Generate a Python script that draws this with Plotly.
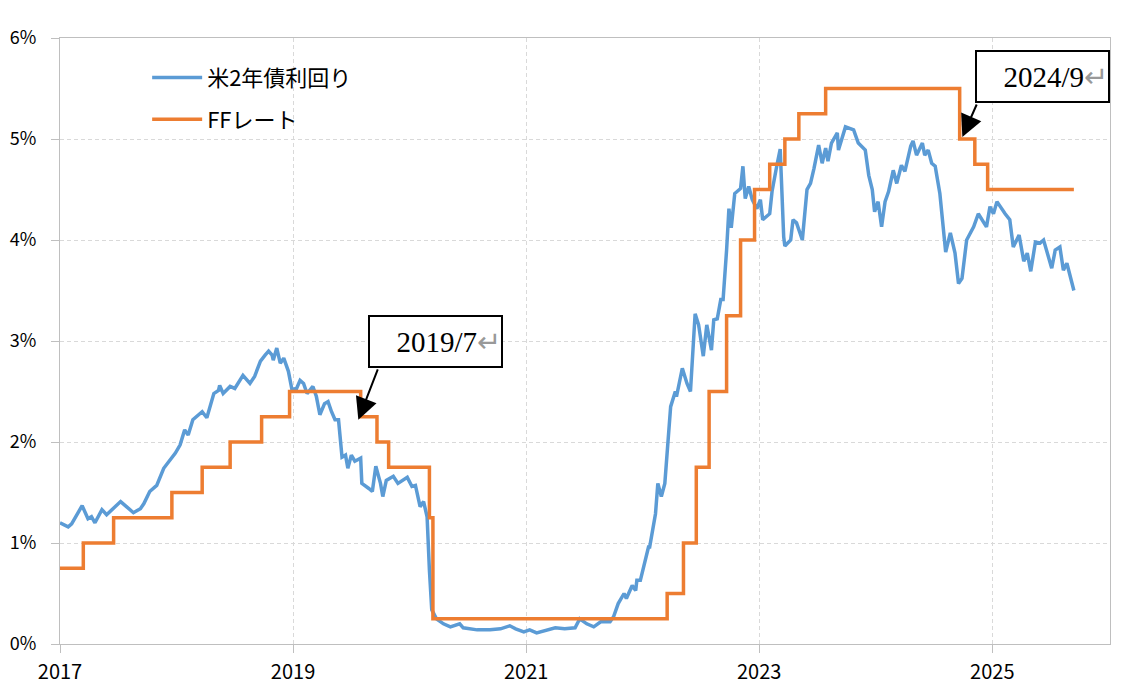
import plotly.graph_objects as go

# ---- data (decimal years) ----
yield_t = [2017.00, 2017.07, 2017.10, 2017.19, 2017.24, 2017.27, 2017.30, 2017.36, 2017.40, 2017.47,
           2017.52, 2017.57, 2017.63, 2017.69, 2017.72, 2017.77, 2017.83, 2017.89, 2017.94, 2017.99,
           2018.03, 2018.07, 2018.10, 2018.14, 2018.22, 2018.26, 2018.32, 2018.36, 2018.37, 2018.40,
           2018.46, 2018.50, 2018.57, 2018.63, 2018.67, 2018.72, 2018.76, 2018.79, 2018.82, 2018.83,
           2018.86, 2018.89, 2018.92, 2018.96, 2018.99, 2019.03, 2019.06, 2019.09, 2019.12, 2019.17,
           2019.20, 2019.23, 2019.27, 2019.30, 2019.33, 2019.36, 2019.39, 2019.42, 2019.45, 2019.47,
           2019.50, 2019.53, 2019.58, 2019.59, 2019.65, 2019.68, 2019.71, 2019.75, 2019.77, 2019.80,
           2019.86, 2019.90, 2019.98, 2020.02, 2020.05, 2020.09, 2020.12, 2020.15, 2020.17, 2020.19,
           2020.23, 2020.29, 2020.35, 2020.43, 2020.46, 2020.58, 2020.69, 2020.78, 2020.86, 2020.91,
           2020.98, 2021.03, 2021.09, 2021.16, 2021.25, 2021.33, 2021.42, 2021.46, 2021.52, 2021.58,
           2021.64, 2021.72, 2021.75, 2021.79, 2021.84, 2021.86, 2021.91, 2021.94, 2021.95, 2021.98,
           2022.02, 2022.05, 2022.06, 2022.11, 2022.13, 2022.16, 2022.19, 2022.24, 2022.28, 2022.29,
           2022.34, 2022.38, 2022.41, 2022.45, 2022.48, 2022.52, 2022.55, 2022.59, 2022.61, 2022.64,
           2022.67, 2022.69, 2022.72, 2022.74, 2022.76, 2022.79, 2022.84, 2022.86, 2022.88, 2022.91,
           2022.94, 2022.98, 2023.01, 2023.03, 2023.09, 2023.11, 2023.15, 2023.18, 2023.21, 2023.22,
           2023.27, 2023.29, 2023.32, 2023.37, 2023.41, 2023.44, 2023.47, 2023.51, 2023.54, 2023.57,
           2023.59, 2023.62, 2023.67, 2023.68, 2023.74, 2023.81, 2023.85, 2023.91, 2023.94, 2023.97,
           2023.99, 2024.02, 2024.05, 2024.08, 2024.11, 2024.15, 2024.18, 2024.22, 2024.25, 2024.30,
           2024.32, 2024.35, 2024.40, 2024.42, 2024.45, 2024.48, 2024.51, 2024.55, 2024.60, 2024.64,
           2024.68, 2024.71, 2024.74, 2024.78, 2024.84, 2024.88, 2024.95, 2024.98, 2025.01, 2025.04,
           2025.11, 2025.15, 2025.18, 2025.23, 2025.27, 2025.30, 2025.33, 2025.37, 2025.41, 2025.44,
           2025.51, 2025.54, 2025.58, 2025.61, 2025.64, 2025.70]
yield_2y = [1.20, 1.16, 1.19, 1.37, 1.24, 1.26, 1.20, 1.33, 1.28, 1.36,
            1.41, 1.36, 1.30, 1.34, 1.39, 1.51, 1.57, 1.74, 1.81, 1.89,
            1.97, 2.12, 2.07, 2.22, 2.30, 2.24, 2.48, 2.51, 2.56, 2.48,
            2.55, 2.53, 2.66, 2.58, 2.65, 2.80, 2.86, 2.90, 2.86, 2.81,
            2.93, 2.78, 2.83, 2.70, 2.52, 2.53, 2.61, 2.58, 2.48, 2.55,
            2.45, 2.27, 2.38, 2.40, 2.30, 2.22, 2.22, 1.85, 1.87, 1.74,
            1.87, 1.81, 1.84, 1.59, 1.54, 1.51, 1.76, 1.59, 1.46, 1.62,
            1.66, 1.59, 1.65, 1.56, 1.57, 1.36, 1.41, 1.26, 0.73, 0.34,
            0.25, 0.20, 0.17, 0.20, 0.16, 0.14, 0.14, 0.15, 0.18, 0.15,
            0.12, 0.14, 0.11, 0.13, 0.16, 0.15, 0.16, 0.25, 0.20, 0.17,
            0.22, 0.22, 0.27, 0.40, 0.50, 0.45, 0.58, 0.53, 0.63, 0.63,
            0.80, 0.96, 0.96, 1.29, 1.59, 1.46, 1.59, 2.35, 2.50, 2.45,
            2.73, 2.58, 2.50, 3.27, 3.16, 2.85, 3.16, 2.91, 3.21, 3.22,
            3.41, 3.41, 3.90, 4.31, 4.12, 4.46, 4.51, 4.73, 4.41, 4.53,
            4.40, 4.31, 4.40, 4.20, 4.26, 4.48, 4.73, 4.90, 4.03, 3.94,
            4.00, 4.20, 4.17, 4.00, 4.50, 4.56, 4.71, 4.94, 4.76, 4.91,
            4.78, 4.96, 5.06, 4.89, 5.12, 5.09, 4.96, 4.89, 4.64, 4.50,
            4.28, 4.38, 4.13, 4.38, 4.48, 4.69, 4.56, 4.74, 4.68, 4.93,
            4.98, 4.84, 4.96, 4.84, 4.89, 4.76, 4.73, 4.46, 3.88, 4.07,
            3.87, 3.57, 3.62, 4.00, 4.13, 4.26, 4.13, 4.33, 4.26, 4.38,
            4.26, 4.20, 3.93, 4.05, 3.79, 3.87, 3.69, 3.98, 3.97, 4.00,
            3.72, 3.90, 3.93, 3.70, 3.77, 3.50]

ff_t = [2017.00, 2017.20, 2017.46, 2017.96, 2018.22, 2018.46, 2018.73, 2018.97, 2019.58, 2019.72,
        2019.82, 2020.17, 2020.20, 2022.21, 2022.35, 2022.46, 2022.57, 2022.72, 2022.84, 2022.96,
        2023.09, 2023.22, 2023.34, 2023.57, 2024.72, 2024.85, 2024.96, 2025.70]
ff_rate = [0.75, 1.00, 1.25, 1.50, 1.75, 2.00, 2.25, 2.50, 2.25, 2.00,
           1.75, 1.25, 0.25, 0.50, 1.00, 1.75, 2.50, 3.25, 4.00, 4.50,
           4.75, 5.00, 5.25, 5.50, 5.00, 4.75, 4.50, 4.50]

y_ticks = [0, 1, 2, 3, 4, 5, 6]
y_labels = ["0%", "1%", "2%", "3%", "4%", "5%", "6%"]
x_ticks = [2017, 2019, 2021, 2023, 2025]
x_labels = ["2017", "2019", "2021", "2023", "2025"]

name_yield = "米2年債利回り"
name_ff = "FFレート"

callouts = [
    {"label": "2019/7", "tip_t": 2019.56, "tip_v": 2.22, "box_t": 2020.223, "box_v": 2.995, "ax": 20, "ay": -52},
    {"label": "2024/9", "tip_t": 2024.743, "tip_v": 5.02, "box_t": 2025.43, "box_v": 5.62, "ax": 15, "ay": -34},
]

FONT = "Noto Sans CJK JP"
BLUE = "#5B9BD5"
ORANGE = "#ED7D31"
GRID = "#d9d9d9"
AXIS = "#bfbfbf"

fig = go.Figure()
fig.add_trace(go.Scatter(x=yield_t, y=yield_2y, mode="lines", name=name_yield,
                         legendgroup="a", line=dict(color=BLUE, width=3.5)))
fig.add_trace(go.Scatter(x=ff_t, y=ff_rate, mode="lines", name=name_ff,
                         legendgroup="b", line=dict(color=ORANGE, width=3.5, shape="hv")))

for c in callouts:
    fig.add_annotation(x=c["tip_t"], y=c["tip_v"], xref="x", yref="y", text="",
                       showarrow=True, ax=c["ax"], ay=c["ay"], axref="pixel", ayref="pixel",
                       arrowhead=2, arrowsize=2.2, arrowwidth=2, arrowcolor="black", standoff=0)
    fig.add_annotation(x=c["box_t"], y=c["box_v"], xref="x", yref="y",
                       text=c["label"] + "<span style='color:#999999'>↵</span>",
                       showarrow=False, width=131, height=49, align="right",
                       bordercolor="black", borderwidth=2, borderpad=0, bgcolor="white",
                       font=dict(family="Liberation Serif", size=29, color="black"))

fig.update_layout(
    width=1121, height=680,
    margin=dict(l=52, r=19, t=30, b=44),
    paper_bgcolor="white", plot_bgcolor="white",
    font=dict(family=FONT, color="black"),
    showlegend=True,
    legend=dict(x=0.083, y=0.969, xanchor="left", yanchor="top", bgcolor="rgba(0,0,0,0)",
                font=dict(family=FONT, size=22, color="black"), tracegroupgap=10, itemwidth=50),
    xaxis=dict(range=[2017, 2026.01], tickmode="array", tickvals=x_ticks, ticktext=x_labels,
               showgrid=True, gridcolor=GRID, griddash="4px,3px", gridwidth=1,
               showline=True, linecolor=AXIS, linewidth=1, mirror=True,
               ticks="outside", ticklen=8, tickcolor=AXIS, zeroline=False, automargin=False,
               tickfont=dict(family=FONT, size=20, color="black"), ticklabelstandoff=2),
    yaxis=dict(range=[0, 6], tickmode="array", tickvals=y_ticks, ticktext=y_labels,
               showgrid=True, gridcolor=GRID, griddash="4px,3px", gridwidth=1,
               showline=True, linecolor=AXIS, linewidth=1, mirror=True,
               ticks="outside", ticklen=8, tickcolor=AXIS, zeroline=False, automargin=False,
               tickfont=dict(family=FONT, size=18, color="black"), ticklabelstandoff=11),
)

fig.write_html("out.html")
